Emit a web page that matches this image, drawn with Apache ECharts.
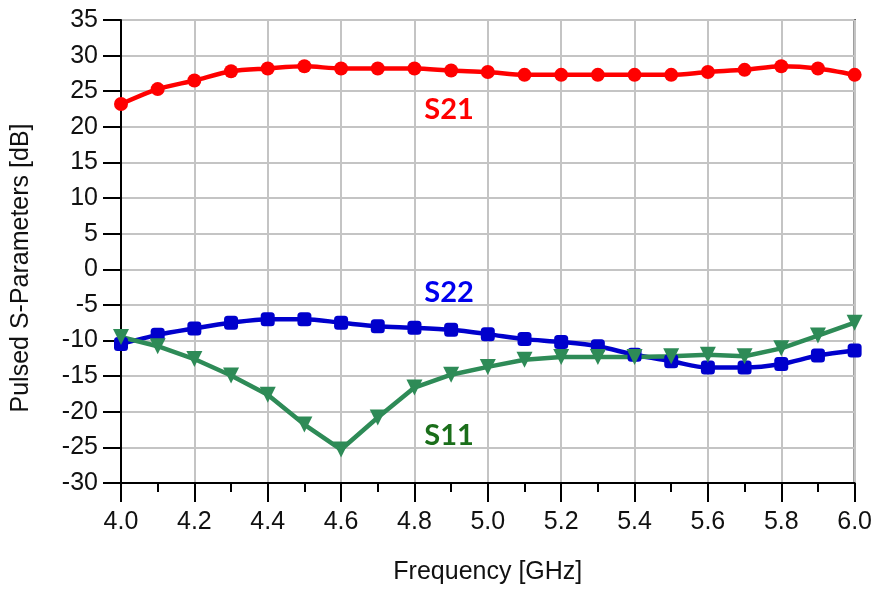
<!DOCTYPE html>
<html>
<head>
<meta charset="utf-8">
<script src="https://cdn.jsdelivr.net/npm/echarts@6/dist/echarts.min.js"></script>
<style>
	html, body { margin: 0; padding: 0; background: #fff; }
	#chart { width: 875px; height: 590px; }
</style>
</head>
<body>
<div id="chart"></div>
<script>
"use strict";

/*****Data*****/
var freq = [4.0, 4.1, 4.2, 4.3, 4.4, 4.5, 4.6, 4.7, 4.8, 4.9, 5.0, 5.1, 5.2, 5.3, 5.4, 5.5, 5.6, 5.7, 5.8, 5.9, 6.0];
var s21 = [23.2, 25.3, 26.5, 27.8, 28.2, 28.5, 28.2, 28.2, 28.2, 27.9, 27.7, 27.3, 27.3, 27.3, 27.3, 27.3, 27.7, 28.0, 28.5, 28.2, 27.3];
var s22 = [-10.5, -9.2, -8.3, -7.5, -7.0, -7.0, -7.5, -8.0, -8.2, -8.5, -9.1, -9.8, -10.2, -10.8, -12.0, -12.9, -13.8, -13.8, -13.3, -12.1, -11.4];
var s11 = [-9.5, -10.8, -12.6, -14.9, -17.6, -21.8, -25.3, -20.8, -16.6, -14.8, -13.7, -12.7, -12.3, -12.3, -12.3, -12.2, -12.0, -12.2, -11.1, -9.3, -7.5];

var pairs = function(ys) {
	var out = [];
	for (var i = 0; i < freq.length; i++) {
		out.push([freq[i], ys[i]]);
	}
	return out;
};

/*****Chart*****/
var chart = echarts.init(document.getElementById('chart'));
var font = "'Liberation Sans', Arial, sans-serif";
var tagFont = "bold 29px Lato, 'Open Sans', sans-serif";

var option = {
	animation: false,
	grid: {
		left: 121,
		right: 17,
		top: 20,
		bottom: 104,
		show: true,
		borderColor: '#000',
		borderWidth: 2
	},
	xAxis: {
		type: 'value',
		min: 4,
		max: 6,
		interval: 0.2,
		name: 'Frequency [GHz]',
		nameLocation: 'middle',
		nameGap: 77,
		nameTextStyle: { color: '#111', fontFamily: font, fontSize: 25 },
		axisLine: { onZero: false, lineStyle: { color: '#000', width: 2 } },
		axisTick: { inside: false, length: 19, lineStyle: { color: '#000', width: 2 } },
		minorTick: { show: true, splitNumber: 2, length: 9, lineStyle: { color: '#000', width: 2 } },
		axisLabel: {
			color: '#111', fontFamily: font, fontSize: 25, margin: 27,
			formatter: function (v) { return v.toFixed(1); }
		},
		splitLine: { show: true, lineStyle: { color: '#c4c4c4', width: 2 } }
	},
	yAxis: {
		type: 'value',
		min: -30,
		max: 35,
		interval: 5,
		axisLine: { onZero: false, lineStyle: { color: '#000', width: 2 } },
		axisTick: { inside: false, length: 18, lineStyle: { color: '#000', width: 2 } },
		axisLabel: { color: '#111', fontFamily: font, fontSize: 25, margin: 23 },
		splitLine: { show: true, lineStyle: { color: '#c4c4c4', width: 2 } }
	},
	series: [
		{
			name: 'S21',
			type: 'line',
			data: pairs(s21),
			smooth: 0.3,
			symbol: 'circle',
			symbolSize: 14,
			itemStyle: { color: '#ff0000' },
			lineStyle: { color: '#ff0000', width: 4.5 }
		},
		{
			name: 'S22',
			type: 'line',
			data: pairs(s22),
			smooth: 0.3,
			symbol: 'roundRect',
			symbolSize: 14,
			itemStyle: { color: '#0000cc' },
			lineStyle: { color: '#0000cc', width: 4.5 }
		},
		{
			name: 'S11',
			type: 'line',
			data: pairs(s11),
			symbol: 'triangle',
			symbolRotate: 180,
			symbolSize: 16,
			itemStyle: { color: '#2e8b57' },
			lineStyle: { color: '#2e8b57', width: 4.5 }
		}
	],
	graphic: [
		{ type: 'text', x: 21, y: 268, rotation: Math.PI / 2,
			style: { text: 'Pulsed S-Parameters [dB]', fill: '#111', font: "25px 'Liberation Sans', Arial, sans-serif", textAlign: 'center', textVerticalAlign: 'middle' } },
		{ type: 'text', x: 449, y: 110, style: { text: 'S21', fill: '#ff0000', font: tagFont, textAlign: 'center', textVerticalAlign: 'middle' } },
		{ type: 'text', x: 449, y: 293, style: { text: 'S22', fill: '#0000ee', font: tagFont, textAlign: 'center', textVerticalAlign: 'middle' } },
		{ type: 'text', x: 449, y: 436, style: { text: 'S11', fill: '#1a6e1a', font: tagFont, textAlign: 'center', textVerticalAlign: 'middle' } }
	]
};

chart.setOption(option);
</script>
</body>
</html>
